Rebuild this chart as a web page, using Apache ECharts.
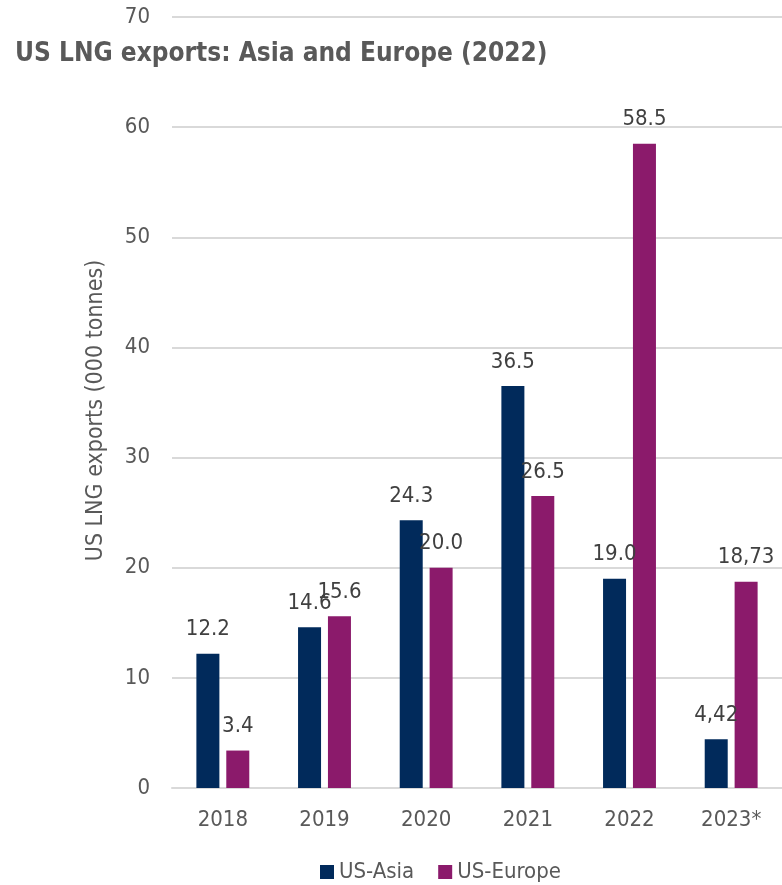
<!DOCTYPE html>
<html><head><meta charset="utf-8">
<script src="https://cdn.jsdelivr.net/npm/echarts@6/dist/echarts.min.js"></script>
<style>html,body{margin:0;padding:0;background:#fff}#c{width:782px;height:885px}</style>
</head><body><div id="c"></div>
<script>
const categories = ['2018','2019','2020','2021','2022','2023*'];
const asiaValues = [12.2, 14.6, 24.3, 36.5, 19.0, 4.42];
const europeValues = [3.4, 15.6, 20.0, 26.5, 58.5, 18.73];
const asiaLabels = ['12.2','14.6','24.3','36.5','19.0','4,42'];
const europeLabels = ['3.4','15.6','20.0','26.5','58.5','18,73'];
const yTicks = [0,10,20,30,40,50,60,70];

const FONT = "'Liberation Sans Narrow','DejaVu Sans Condensed',sans-serif";
const chart = echarts.init(document.getElementById('c'));
chart.setOption({
  animation:false,
  textStyle:{fontFamily:FONT},
  title:{text:'US LNG exports: Asia and Europe (2022)', left:10, top:36,
    textStyle:{fontFamily:FONT,fontSize:26,fontWeight:'bold',color:'#595959'}},
  legend:{top:856,left:315,itemWidth:14,itemHeight:14,itemGap:24,icon:'rect',
    textStyle:{fontFamily:FONT,fontSize:22,color:'#595959'}},
  grid:{left:172,right:0,top:17,bottom:97},
  xAxis:{type:'category',data:categories,
    axisLine:{show:true,lineStyle:{color:'#d9d9d9',width:2}},axisTick:{show:false},
    axisLabel:{fontFamily:FONT,fontSize:22,color:'#595959',margin:21}},
  yAxis:{type:'value',min:yTicks[0],max:yTicks[yTicks.length-1],interval:10,
    name:'US LNG exports (000 tonnes)',nameLocation:'middle',nameGap:64,
    nameTextStyle:{fontFamily:FONT,fontSize:23,color:'#595959',padding:[0,16,0,0]},
    axisLine:{show:false},axisTick:{show:false},
    axisLabel:{fontFamily:FONT,fontSize:22,color:'#595959',margin:22},
    splitLine:{lineStyle:{color:'#d9d9d9',width:2}}},
  series:[
    {name:'US-Asia',type:'bar',data:asiaValues,barWidth:23,barGap:'30%',
     itemStyle:{color:'#012a5b'},
     label:{show:true,position:'top',distance:13,fontFamily:FONT,fontSize:22,color:'#404040',
       formatter:p=>asiaLabels[p.dataIndex]}},
    {name:'US-Europe',type:'bar',data:europeValues,barWidth:23,
     itemStyle:{color:'#8b1a6b'},
     label:{show:true,position:'top',distance:13,fontFamily:FONT,fontSize:22,color:'#404040',
       formatter:p=>europeLabels[p.dataIndex]}}
  ]
});
</script></body></html>
